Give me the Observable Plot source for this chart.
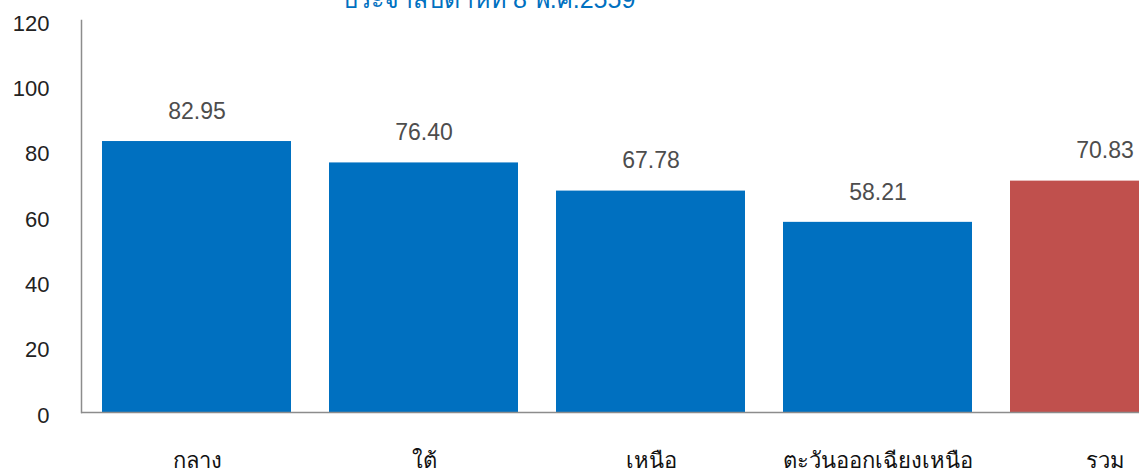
<!DOCTYPE html>
<html>
<head>
<meta charset="utf-8">
<script src="https://cdn.jsdelivr.net/npm/d3@7"></script>
<script src="https://cdn.jsdelivr.net/npm/@observablehq/plot@0.6"></script>
<style>
  html, body { margin: 0; padding: 0; background: #fff; overflow: hidden; }
  #wrap { position: relative; width: 1139px; height: 470px; overflow: hidden; }
  #title { position: absolute; left: 342px; top: -21px; font-family: "Liberation Sans", Arial, sans-serif; font-size: 25px; color: #0070C0; white-space: nowrap; }
  #chart { position: absolute; left: 0; top: 0; }
  #chart svg { max-width: none !important; }
</style>
</head>
<body>
<div id="wrap">
  <div id="chart"></div>
  <div id="title">ประจำสัปดาห์ที่ 8 พ.ศ.2559</div>
</div>
<script>
const regions = ["กลาง", "ใต้", "เหนือ", "ตะวันออกเฉียงเหนือ", "รวม"];
const values = [82.95, 76.40, 67.78, 58.21, 70.83];
const barColors = ["#0070C0", "#0070C0", "#0070C0", "#0070C0", "#C0504D"];
const yTicks = [0, 20, 40, 60, 80, 100, 120];

const data = regions.map((r, i) => ({region: r, value: values[i], color: barColors[i]}));

const chart = Plot.plot({
  width: 1235,
  height: 470,
  marginLeft: 81,
  marginRight: 15,
  marginTop: 20,
  marginBottom: 58,
  style: {fontFamily: "'Liberation Sans', Arial, sans-serif", background: "#fff", maxWidth: "none"},
  x: {domain: regions, paddingInner: 0.168, paddingOuter: 0.088, label: null},
  y: {domain: [0, 120], ticks: yTicks, label: null},
  marks: [
    Plot.barY(data, {x: "region", y: "value", fill: "color"}),
    Plot.text(data, {x: "region", y: "value", text: d => d.value.toFixed(2), dy: -30, fontSize: 23, fill: "#4d4d4d"}),
    Plot.axisY({ticks: yTicks, tickSize: 0, tickPadding: 32, fontSize: 22, fill: "#222", label: null, dy: 3}),
    Plot.axisX({tickSize: 0, tickPadding: 40, fontSize: 22, fill: "#111", label: null}),
    Plot.frame({anchor: "left", stroke: "#8c8c8c", strokeWidth: 1.5}),
    Plot.ruleY([0], {stroke: "#8c8c8c", strokeWidth: 1.5})
  ]
});
document.getElementById("chart").appendChild(chart);
</script>
</body>
</html>
